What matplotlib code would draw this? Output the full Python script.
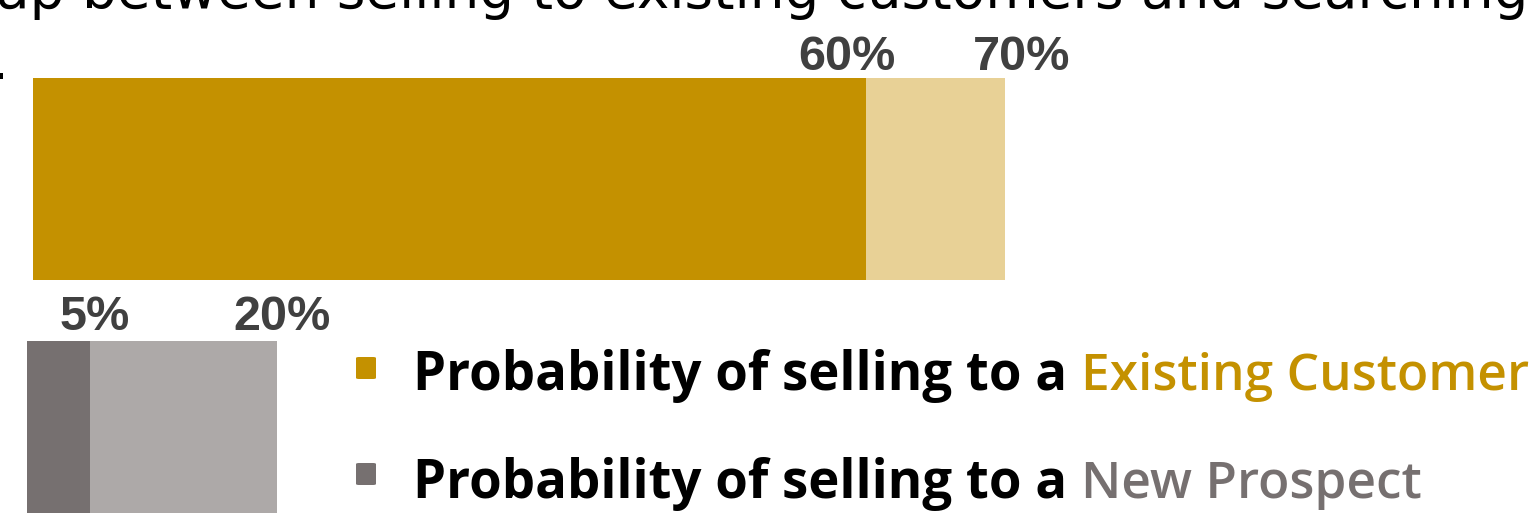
import matplotlib.pyplot as plt
from matplotlib.patches import FancyBboxPatch, Rectangle

# data
existing_vals = [60, 70]
existing_labels = ["60%", "70%"]
existing_colors = ["#C49100", "#E8D196"]

prospect_vals = [5, 20]
prospect_labels = ["5%", "20%"]
prospect_colors = ["#767070", "#ADA9A8"]

title_text = "ap between selling to existing customers and searching"
legend_prefix = "Probability of selling to a "
legend_names = ["Existing Customer", "New Prospect"]
legend_colors = ["#C49100", "#767070"]

W, H = 1529, 513
fig = plt.figure(figsize=(W / 100, H / 100), dpi=100)


def px_axes(x0, y0, x1, y1):
    ax = fig.add_axes([x0 / W, 1 - y1 / H, (x1 - x0) / W, (y1 - y0) / H])
    ax.set_axis_off()
    return ax


def stacked(ax, vals, colors, labels, offsets, dy, xmax):
    left = 0
    for v, c in zip(vals, colors):
        ax.barh(0, v - left, left=left, height=1, color=c, linewidth=0)
        left = v
    ax.set_xlim(0, xmax)
    ax.set_ylim(-0.5, 0.5)
    for v, lab, dx in zip(vals, labels, offsets):
        ax.annotate(lab, (v, 0.5), xytext=(dx, dy), textcoords="offset pixels",
                    ha="center", va="baseline", fontsize=35, fontweight="bold",
                    color="#404040", family="Liberation Sans", annotation_clip=False)


# top gold bar
ax1 = px_axes(33, 78, 33 + 13.886 * 70, 280)
stacked(ax1, existing_vals, existing_colors, existing_labels, [-19, 17], 8, 70)

# bottom gray bar (cut by image edge)
ax2 = px_axes(27, 341, 27 + 12.5 * 20, 513)
stacked(ax2, prospect_vals, prospect_colors, prospect_labels, [5, 5], 11, 20)

# cut off title line
fig.text(-4 / W, 1 - 8 / H, title_text, fontsize=39.5, family="DejaVu Sans",
         va="baseline", ha="left", color="black")
fig.patches.append(Rectangle((0, 1 - 79 / H), 2.5 / W, 6 / H, transform=fig.transFigure,
                             color="black", linewidth=0))

# legend lines with coloured tail words
fig.canvas.draw()
renderer = fig.canvas.get_renderer()
for i, (name, col) in enumerate(zip(legend_names, legend_colors)):
    y_top = 357 + i * 106
    fig.patches.append(FancyBboxPatch((356 / W, 1 - (y_top + 22) / H), 20 / W, 22 / H,
                                      boxstyle="round,pad=0,rounding_size=0.002",
                                      transform=fig.transFigure, color=col, linewidth=0))
    base = 1 - (390 + i * 108) / H
    t = fig.text(413 / W, base, legend_prefix, fontsize=38, fontweight="bold",
                 family="Open Sans", color="black", va="baseline")
    bb = t.get_window_extent(renderer)
    fig.text(bb.x1 / W, base, name, fontsize=37, fontweight="semibold",
             family="Open Sans", color=col, va="baseline")

fig.savefig("out.png", dpi=100)
